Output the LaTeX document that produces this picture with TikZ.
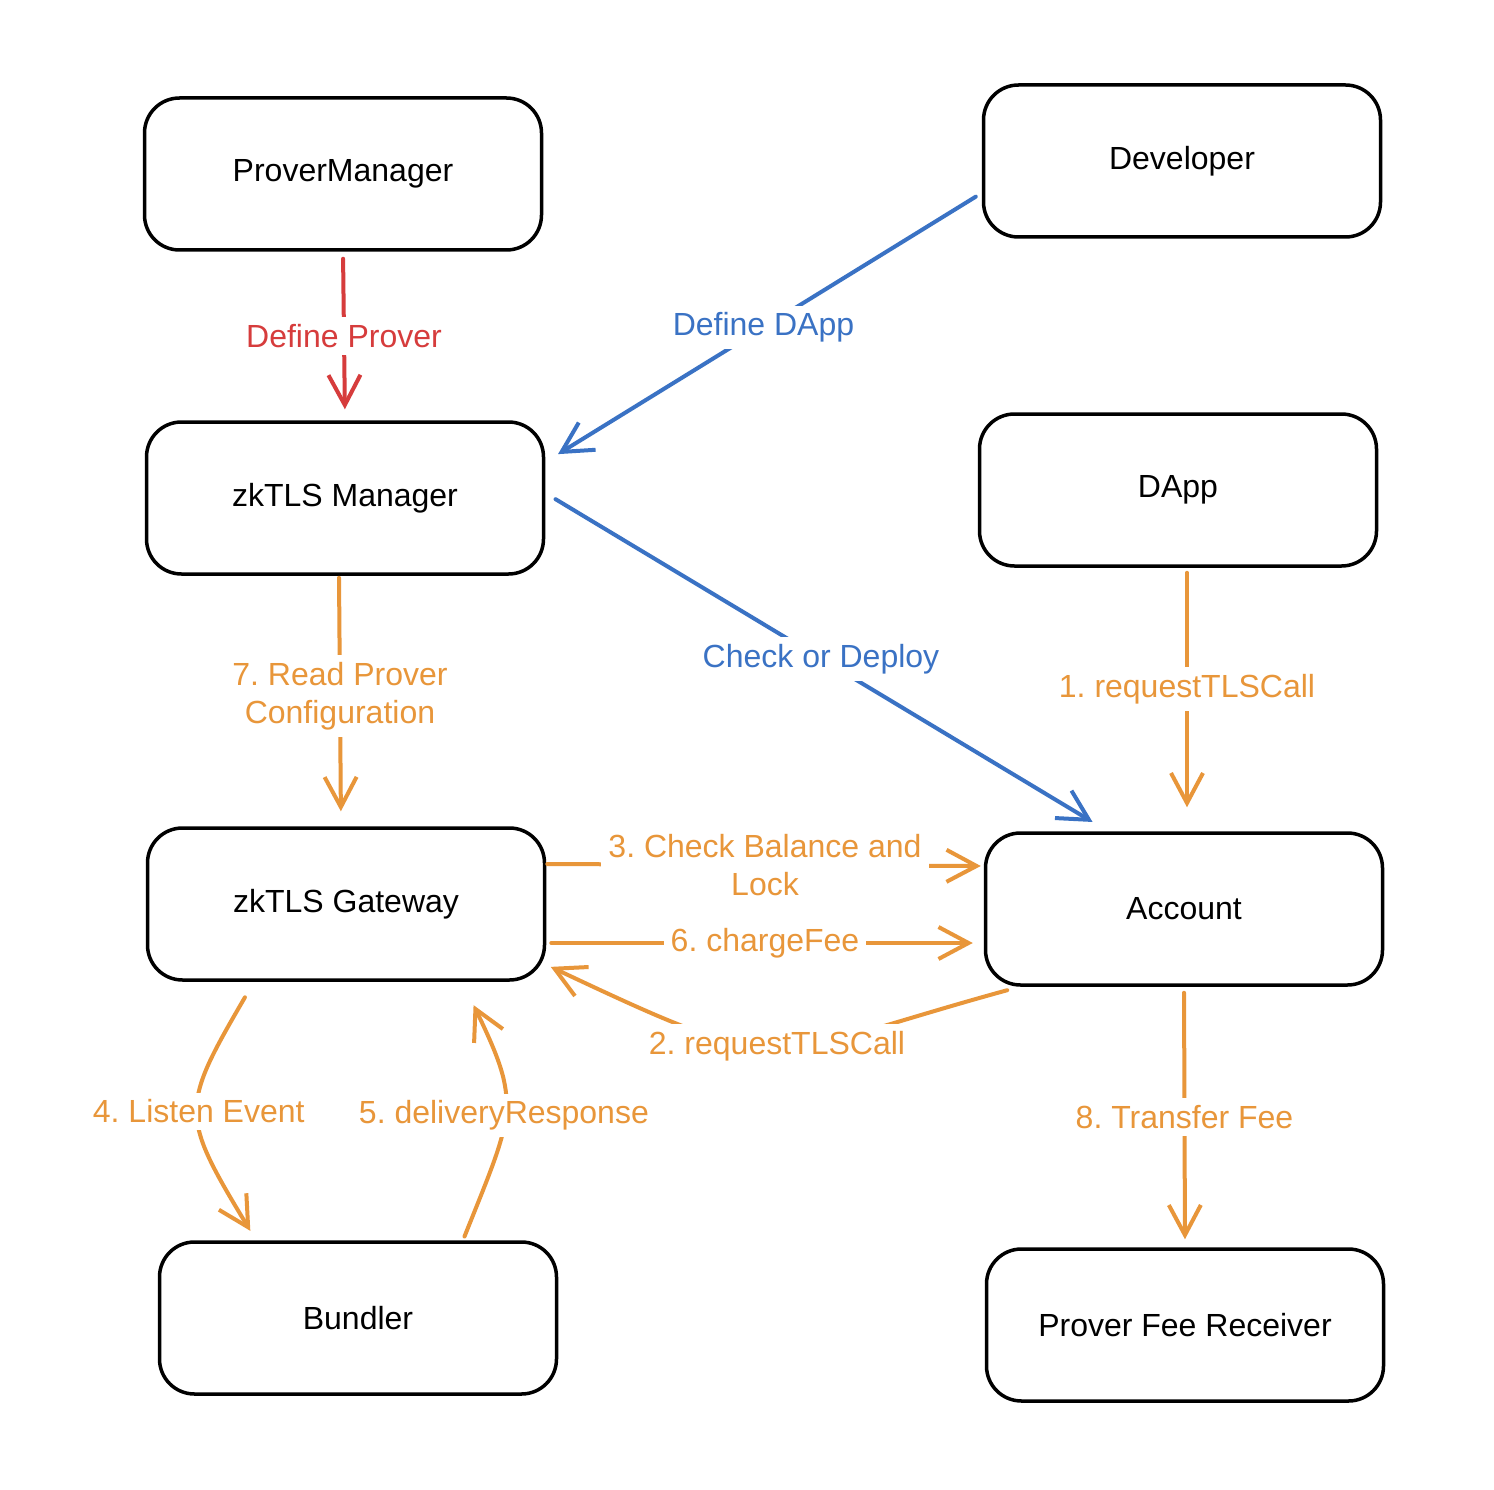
\documentclass[tikz,border=0pt]{standalone}
\usepackage{fontspec}
\setmainfont{Liberation Sans}
\usetikzlibrary{arrows.meta}
\definecolor{cred}{HTML}{D63C3C}
\definecolor{cblue}{HTML}{3A72C4}
\definecolor{corange}{HTML}{E8963A}
\begin{document}
\frenchspacing
\begin{tikzpicture}[x=1pt,y=-1pt,
  box/.style={draw=black, line width=3.5pt, rounded corners=35pt, minimum width=397pt, minimum height=152pt, font=\fontsize{32}{38}\selectfont, fill=white},
  conn/.style={line width=4pt, line cap=round, line join=round, -{Straight Barb[length=30pt,width=32pt]}},
  lbl/.style={fill=white, inner sep=7pt, align=center, font=\fontsize{32}{38}\selectfont}
]
\path[fill=white] (0,0) rectangle (1494,1490);
\useasboundingbox (0,0) rectangle (1494,1490);

\node[box] (pm) at (343,174) {ProverManager};
\node[box] (dev) at (1182,161) {Developer};
\node[box] (zm) at (345,498) {zkTLS Manager};
\node[box] (dapp) at (1178,490) {DApp};
\node[box] (gw) at (346,904) {zkTLS Gateway};
\node[box] (acc) at (1184,909) {Account};
\node[box] (bun) at (358,1318) {Bundler};
\node[box] (pfr) at (1185,1325) {Prover Fee Receiver};

\draw[conn, cred, shorten <=7pt, shorten >=11pt] (pm.south) -- node[lbl, text=cred] {Define Prover} (zm.north);

\draw[conn, cblue, shorten <=7pt, shorten >=15pt] ([yshift=-32pt]dev.west) -- node[lbl, text=cblue] {Define DApp} ([yshift=36pt]zm.east);

\draw[conn, cblue, shorten <=12pt, shorten >=18pt] ([yshift=5pt]zm.east) -- node[lbl, text=cblue, pos=0.49] {Check or Deploy} ([xshift=-76pt]acc.north);

\draw[conn, corange, shorten <=5pt, shorten >=24pt] ([xshift=9pt]dapp.south) -- node[lbl, text=corange, pos=0.46] {1. requestTLSCall} ([xshift=3pt]acc.north);

\draw[conn, corange, shorten <=2pt, shorten >=15pt] ([xshift=-6pt]zm.south) -- node[lbl, text=corange, pos=0.48] {7. Read Prover\\Configuration} ([xshift=-5pt]gw.north);

\draw[conn, corange, shorten <=1pt, shorten >=3pt] ([yshift=40pt]gw.east) -- node[lbl, text=corange] {3. Check Balance and\\Lock} ([yshift=43pt]acc.west);

\draw[conn, corange, shorten <=5pt, shorten >=11pt] ([yshift=-39pt]gw.east) -- node[lbl, text=corange] {6. chargeFee} ([yshift=-34pt]acc.west);

\draw[conn, corange, shorten <=13pt, shorten >=5pt] ([xshift=36pt]acc.south west) .. controls +(-262,72) and +(246,116) .. node[lbl, text=corange] {2. requestTLSCall} ([yshift=17pt]gw.south east);

\draw[conn, corange, shorten <=18pt, shorten >=11pt] ([xshift=-92pt]gw.south) .. controls +(-74,127) and +(-76,-126) .. node[lbl, text=corange] {4. Listen Event} ([xshift=-102pt]bun.north);

\draw[conn, corange, shorten <=4pt, shorten >=26pt] ([xshift=105pt]bun.north) .. controls +(51,-128) and +(60,124) .. node[lbl, text=corange, pos=0.47] {5. deliveryResponse} ([xshift=-84pt]gw.south east);

\draw[conn, corange, shorten <=6pt, shorten >=8pt] (acc.south) -- node[lbl, text=corange] {8. Transfer Fee} (pfr.north);
\end{tikzpicture}
\end{document}
